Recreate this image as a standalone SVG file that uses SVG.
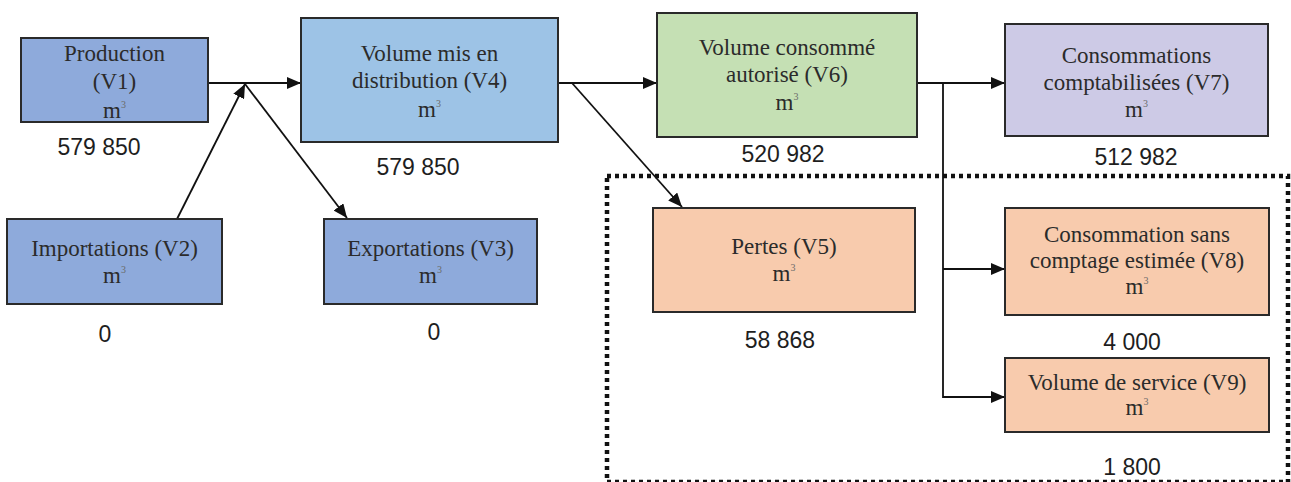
<svg xmlns="http://www.w3.org/2000/svg" width="1291" height="482" viewBox="0 0 1291 482">
<style>
.box{stroke:#2a2a2a;stroke-width:2}
.lbl{font-family:"Liberation Serif","Times New Roman",serif;font-size:23px;fill:#2b2b2b;text-anchor:middle}
.sup{font-size:10px;fill:#6a6a6a}
.num{font-family:"Liberation Sans",Arial,sans-serif;font-size:23px;fill:#1e1e1e;text-anchor:middle}
.con{stroke:#111;stroke-width:1.8;fill:none}
.blue{fill:#8eaadb}.lblue{fill:#9dc3e6}.green{fill:#c5e0b4}.lav{fill:#cdcae6}.peach{fill:#f8cbad}
</style>
<defs>
<marker id="arr" markerUnits="userSpaceOnUse" markerWidth="14" markerHeight="12" viewBox="0 0 14 12" refX="14" refY="6" orient="auto">
<path d="M0,0 L14,6 L0,12 z" fill="#111"/>
</marker>
</defs>
<rect x="0" y="0" width="1291" height="482" fill="#ffffff"/>
<rect id="zone-pertes" x="607" y="176" width="681" height="306" fill="none" stroke="#111" stroke-width="4.5" stroke-dasharray="4 4"/>
<g id="connectors">
<path class="con" d="M208,83 H301" marker-end="url(#arr)"/>
<path class="con" d="M177,219 L245,84" marker-end="url(#arr)"/>
<path class="con" d="M245,84 L347,218" marker-end="url(#arr)"/>
<path class="con" d="M558,83 H657" marker-end="url(#arr)"/>
<path class="con" d="M572,83 L682,207" marker-end="url(#arr)"/>
<path class="con" d="M917,83 H1005" marker-end="url(#arr)"/>
<path class="con" d="M943,83 V397 H1005" marker-end="url(#arr)"/>
<path class="con" d="M943,269 H1005" marker-end="url(#arr)"/>
</g>
<g id="v1">
<rect class="box blue" x="21" y="38" width="187" height="84"/>
<text class="lbl" x="114.5" y="61">Production</text>
<text class="lbl" x="114.5" y="89">(V1)</text>
<text class="lbl" x="114.5" y="118">m<tspan class="sup" dy="-10">3</tspan></text>
<text class="num" x="99" y="155">579 850</text>
</g>
<g id="v2">
<rect class="box blue" x="7" y="219" width="215" height="85"/>
<text class="lbl" x="114.5" y="256">Importations (V2)</text>
<text class="lbl" x="114.5" y="283">m<tspan class="sup" dy="-10">3</tspan></text>
<text class="num" x="105" y="342">0</text>
</g>
<g id="v3">
<rect class="box blue" x="324" y="219" width="213" height="85"/>
<text class="lbl" x="430.5" y="256">Exportations (V3)</text>
<text class="lbl" x="430.5" y="283">m<tspan class="sup" dy="-10">3</tspan></text>
<text class="num" x="434" y="340">0</text>
</g>
<g id="v4">
<rect class="box lblue" x="301" y="18" width="257" height="124"/>
<text class="lbl" x="429.5" y="61">Volume mis en</text>
<text class="lbl" x="429.5" y="88">distribution (V4)</text>
<text class="lbl" x="429.5" y="117">m<tspan class="sup" dy="-10">3</tspan></text>
<text class="num" x="418" y="175">579 850</text>
</g>
<g id="v5">
<rect class="box peach" x="653" y="208" width="262" height="104"/>
<text class="lbl" x="784" y="254">Pertes (V5)</text>
<text class="lbl" x="784" y="281">m<tspan class="sup" dy="-10">3</tspan></text>
<text class="num" x="780" y="348">58 868</text>
</g>
<g id="v6">
<rect class="box green" x="657" y="13" width="260" height="124"/>
<text class="lbl" x="787" y="55">Volume consommé</text>
<text class="lbl" x="787" y="82">autorisé (V6)</text>
<text class="lbl" x="787" y="110">m<tspan class="sup" dy="-10">3</tspan></text>
<text class="num" x="783" y="162">520 982</text>
</g>
<g id="v7">
<rect class="box lav" x="1005" y="24" width="263" height="112"/>
<text class="lbl" x="1136.5" y="63">Consommations</text>
<text class="lbl" x="1136.5" y="90">comptabilisées (V7)</text>
<text class="lbl" x="1136.5" y="117">m<tspan class="sup" dy="-10">3</tspan></text>
<text class="num" x="1136" y="165">512 982</text>
</g>
<g id="v8">
<rect class="box peach" x="1005" y="208" width="264" height="107"/>
<text class="lbl" x="1137" y="242">Consommation sans</text>
<text class="lbl" x="1137" y="268">comptage estimée (V8)</text>
<text class="lbl" x="1137" y="294">m<tspan class="sup" dy="-10">3</tspan></text>
<text class="num" x="1132" y="350">4 000</text>
</g>
<g id="v9">
<rect class="box peach" x="1005" y="358" width="264" height="74"/>
<text class="lbl" x="1137" y="390">Volume de service (V9)</text>
<text class="lbl" x="1137" y="415">m<tspan class="sup" dy="-10">3</tspan></text>
<text class="num" x="1132" y="475">1 800</text>
</g>
</svg>
